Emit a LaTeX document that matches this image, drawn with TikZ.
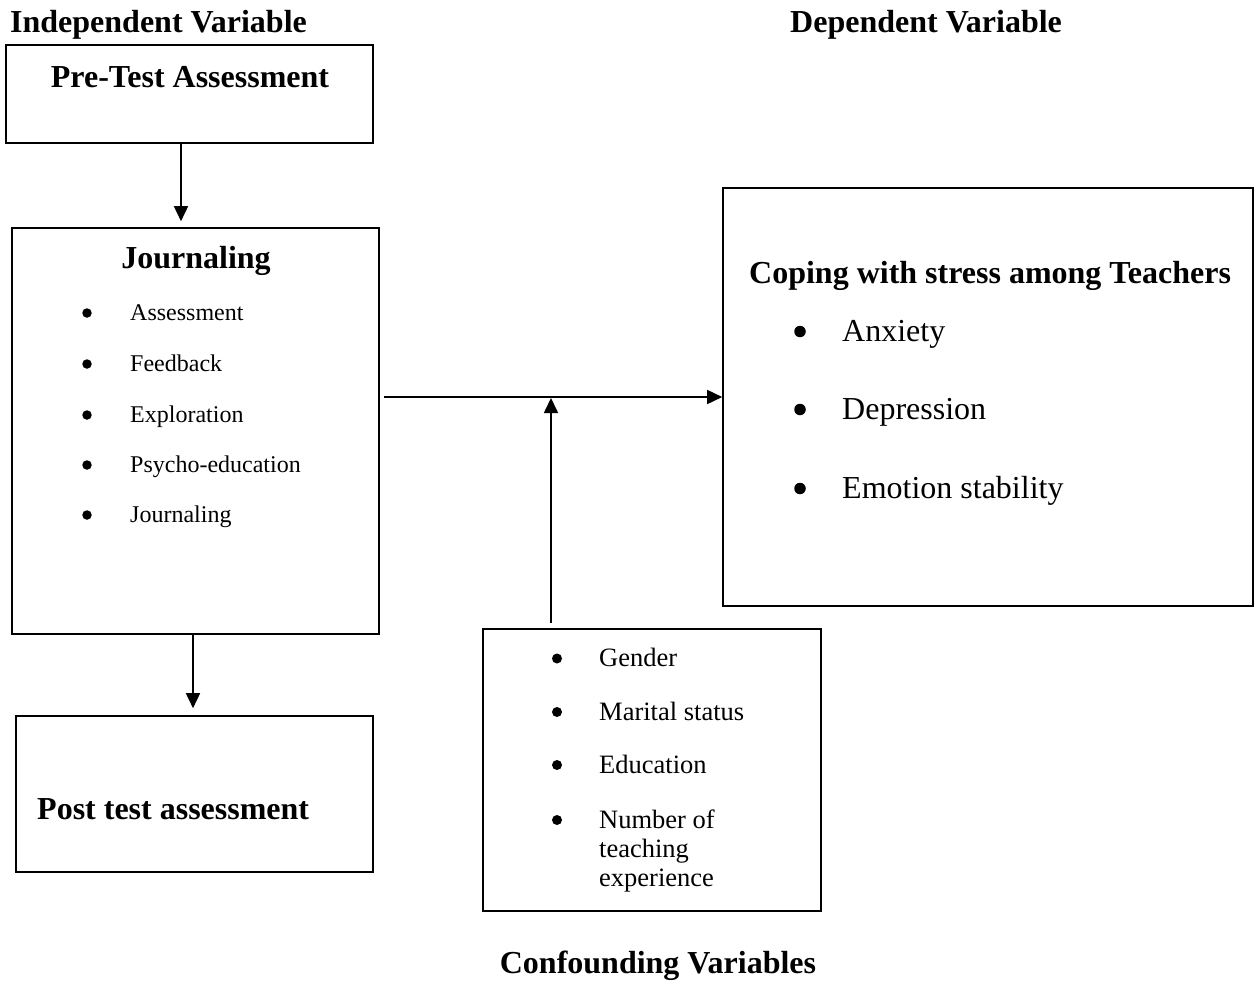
\documentclass[tikz,border=0pt]{standalone}
\usepackage{fontspec}
\setmainfont{Liberation Serif}
\usetikzlibrary{arrows.meta}
\tikzset{
  box/.style={draw, line width=1.6pt, rectangle, inner sep=0pt},
  arr/.style={line width=1.6pt, -{Triangle[length=15pt,width=14pt]}},
  head/.style={inner sep=0pt, font=\fontsize{32}{38}\selectfont\bfseries},
  itemS/.style={inner sep=0pt, anchor=base west, font=\fontsize{24}{29}\selectfont},
  itemL/.style={inner sep=0pt, anchor=base west, font=\fontsize{32}{38}\selectfont},
  itemM/.style={inner sep=0pt, anchor=base west, font=\fontsize{26.5}{29.5}\selectfont, align=left},
  dot/.style={circle, fill, inner sep=0pt, minimum size=#1}
}
\begin{document}
\begin{tikzpicture}[x=1pt,y=1pt]
\useasboundingbox (0,0) rectangle (1254,-988);
% headings
\node[head, anchor=base west] (ivar) at (10,-32) {Independent Variable};
\node[head, anchor=base west] (dvar) at (790,-32) {Dependent Variable};
\node[head, anchor=base] (cvar) at (658,-973) {Confounding Variables};
% boxes
\node[box, minimum width=367pt, minimum height=98pt] (pre) at (189.5,-94) {};
\node[box, minimum width=367pt, minimum height=406pt] (jour) at (195.5,-431) {};
\node[box, minimum width=357pt, minimum height=156pt] (post) at (194.5,-794) {};
\node[box, minimum width=530pt, minimum height=418pt] (dep) at (988,-397) {};
\node[box, minimum width=338pt, minimum height=282pt] (conf) at (652,-770) {};
% box texts
\node[head, anchor=base] (pret) at (190,-87) {Pre-Test Assessment};
\node[head, anchor=base] (jourt) at (196,-268) {Journaling};
\node[head, anchor=base west] (postt) at (37,-819) {Post test assessment};
\node[head, anchor=base west] (dept) at (749,-283) {Coping with stress among Teachers};
% journaling items
\node[dot=9.5pt] (jb1) at (87,-313) {};
\node[itemS] (ji1) at (130,-320) {Assessment};
\node[dot=9.5pt] (jb2) at (87,-364) {};
\node[itemS] (ji2) at (130,-371) {Feedback};
\node[dot=9.5pt] (jb3) at (87,-415) {};
\node[itemS] (ji3) at (130,-422) {Exploration};
\node[dot=9.5pt] (jb4) at (87,-465) {};
\node[itemS] (ji4) at (130,-472) {Psycho-education};
\node[dot=9.5pt] (jb5) at (87,-515) {};
\node[itemS] (ji5) at (130,-522) {Journaling};
% dependent items
\node[dot=11.5pt] (db1) at (800,-331.5) {};
\node[itemL] (di1) at (842,-341) {Anxiety};
\node[dot=11.5pt] (db2) at (800,-409.5) {};
\node[itemL] (di2) at (842,-419) {Depression};
\node[dot=11.5pt] (db3) at (800,-488.5) {};
\node[itemL] (di3) at (842,-498) {Emotion stability};
% confounding items
\node[dot=10pt] (cb1) at (557,-658.5) {};
\node[itemM] (ci1) at (599,-666.5) {Gender};
\node[dot=10pt] (cb2) at (557,-712) {};
\node[itemM] (ci2) at (599,-720) {Marital status};
\node[dot=10pt] (cb3) at (557,-765) {};
\node[itemM] (ci3) at (599,-773) {Education};
\node[dot=10pt] (cb4) at (557,-820) {};
\node[itemM] (ci4) at (599,-828) {Number of};
\node[itemM] (ci5) at (599,-857) {teaching};
\node[itemM] (ci6) at (599,-886) {experience};
% connectors
\draw[arr] ([xshift=-8.5pt]pre.south) -- ([xshift=-14.5pt,yshift=6pt]jour.north);
\draw[arr] ([xshift=-2.5pt]jour.south) -- ([xshift=-1.5pt,yshift=7pt]post.north);
\coordinate (hs) at (384,-397);
\draw[arr] (hs) -- (dep.west);
\coordinate (vt) at (551,-398);
\draw[arr] ([shift={(-101pt,5pt)}]conf.north) -- (vt);
\end{tikzpicture}
\end{document}
